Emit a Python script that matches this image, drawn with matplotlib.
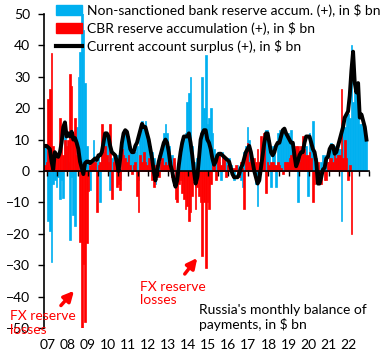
import numpy as np
import matplotlib
matplotlib.use('Agg')
import matplotlib.pyplot as plt
from matplotlib.patches import Patch
from matplotlib.lines import Line2D

plt.rcParams['font.family'] = ['Lato', 'DejaVu Sans']

# monthly values, $ bn (Jan 2007 onwards)
current_account = [
    8, 8, 7.5, 7, 3, 0.5, 6, 5, 4.5, 6, 9, 14,            # 2007
    15.5, 11, 12, 11, 12.5, 10, 10.5, 9, 7, 3, 1, -1,     # 2008
    2.5, 3, 3, 2.5, 3, 3.5, 4, 3.5, 5, 5, 6, 9,           # 2009
    12, 12, 11, 8, 6, 5.5, 5, 3, 0, 4, 9, 12,             # 2010
    13, 12.5, 10, 7, 6, 6, 8, 9, 11, 13, 15, 14,          # 2011
    14, 12, 10, 7, 4, 0, -3, 0, 3, 5, 7, 9,               # 2012
    10, 9, 6, 2, 0, -3, -5, -3, 2, 6, 9, 11,              # 2013
    11, 11, 12, 9, 5, 0, -4, -2, 4, 10, 12, 13,           # 2014
    13, 10, 9, 7, 4, 2, 3, 5, 5.5, 5.5, 5, 4.5,           # 2015
    4, 3.5, 3, 1, -1, -2, -2, -2, -1, 1, 2, 4, 6,         # 2016
    7, 8, 6, 3, 0, -2, -4, -3, 1, 5, 9, 12,               # 2017
    12, 9, 6, 5, 6, 8, 9, 9, 11, 13, 13.5, 12,            # 2018
    11, 10, 9, 9, 5, 1.5, 3, 5, 6, 6, 9, 11,              # 2019
    11, 11, 9, 7, 6, 3, -4, -4, -2, 0.5, 1, 4,            # 2020
    4.5, 7, 8, 8, 5.5, 6, 8, 10, 12, 14, 17, 18,          # 2021
    19, 24, 32, 38, 28, 25, 28, 17, 18, 16, 14, 10,       # 2022
]

bank_reserves = [
    8, 8, -16, -19, -29, -4, -3, -5, -2, -9, -3, -8.5,
    12, 6, 3, -22, -2, -14, -17.5, 14, 30, 38, 52, 45,
    28, 8, 3, -6, 3, 10, 4, 3, 5, -10, 6, 8,
    12, 11, 10, -6, 4, 5, 4, 5, 2, -3, 8, 12,
    13, 12, 11, 8, 7, 6, 6, 8, -3, 13, 16, 14,
    16, 12, 7, 8, 6, 4, -4, -2, 5, 6, 8, 12,
    15, 12, 8, 4, 5, 3, -3, -4, -2, 4, 8, 10,
    12, 22, 25, 30, 8, 3, -5, 4, 8, 12, 30, 20,
    37, 15, 17, 20, 12, 7, 5, 6, 3, -3, 6, 4,
    3, 2, 4, 2, 1, -3, 1, 2, 1, -3, -5, 6, 8,
    14, 10, 5, 2, 3, -4, -11, -3, 3, 5, 9, 13,
    13, 10, -5, 8, 7, -5, 12, 13, 12, 13, 12, 12,
    12, 11, 13, 9, 7, 3, -10, 6, 5, 7, 6, 8,
    -8, 12, 8, 16, 5, 4, 2, -2, 3, 5, 3, 5,
    3, 5, 9, 6, 4, 8, 7, 7, -16, 14, 14, 18,
    18, 17, 40, 22, 28, 25, 25, 15, 15, 14, 12, 10,
]

cbr_reserves = [
    2, 3, 23, 26, 37.5, 8, 6, 4, 5, 17, 13, 5,
    10, 8, 10, 31, 27, 12, 17, 5, 3, -22.5, -50, -29.5,
    -48, -23, -6.5, 2, 3, 4, 3, -13, 2, 3, 15, 6,
    8, 5, 3, 15, -9, 3, 5, -5, -4, -6, 7, 5,
    4, 3, 5, 2, -1, 2, 3, -8, -13, 5, 3, 6,
    3, 2, 4, 3, -3, -5, 2, 1, -2, 3, 4, 2,
    3, 2, 4, 3, -2, 4, -9, -10, -4, -3, -7, -9,
    -12, -11, -16, -13, -8, -3, -12, -5, -8, -10, -27, -10,
    -31, -10, -12, -4, 4, 3, -3, 4, 5, 2, 5, 4,
    -2, 2, 3, 1, -2, 1, 2, -1, -2, 3, 1, -12, 5,
    9, 3, 4, 3, 4, 3, 7, 3, 11, 4, 12, -7,
    3, 2, 3, 3, 2, 2, 3, 2, 1, -1, 3, 3,
    3, 4, 5, 8, 5, 8, 8, 3, 8, 11, 7, 5,
    5, 6, 4, -10, -4, 2, 3, -3, -4, 1, -3, -3,
    3, 4, 4, 3, 5, 4, 5, 5, 26, 4, 10, 4,
    -3, 2, -20, 0, 0, 0, 0, 0, 0, 0, 0, 0,
]

year_labels = ['07', '08', '09', '10', '11', '12', '13', '14', '15',
               '16', '17', '18', '19', '20', '21', '22']

blue = '#00B0F0'
red = '#FF0000'

x = np.arange(len(current_account))

fig = plt.figure(figsize=(3.84, 3.61), dpi=100)
ax = fig.add_axes([44 / 384, 1 - 328 / 361, 325 / 384, 314 / 361])

ax.bar(x, bank_reserves, width=1.0, color=blue, edgecolor=blue, linewidth=0.5)
ax.bar(x, cbr_reserves, width=1.0, color=red, edgecolor=red, linewidth=0.5)
ax.plot(x, current_account, color='black', lw=2.8, solid_joinstyle='round')

ax.set_xlim(-0.5, len(x) + 0.5)
ax.set_ylim(-50, 50)
ax.set_yticks(range(-50, 51, 10))
ax.tick_params(axis='y', direction='out', length=4, width=1, labelsize=10, pad=6)

for s in ['top', 'right']:
    ax.spines[s].set_visible(False)
ax.spines['left'].set_linewidth(1.2)
ax.spines['bottom'].set_position(('data', 0))
ax.spines['bottom'].set_linewidth(1.2)
ax.set_xticks(np.arange(1.5, len(x) + 1, 6))
ax.tick_params(axis='x', direction='out', length=3.5, width=1, labelbottom=False)

# year labels along the bottom edge
sec = ax.secondary_xaxis('bottom')
sec.set_xticks(np.arange(len(year_labels)) * 12 + 1.5, year_labels)
sec.tick_params(length=0, labelsize=10, pad=8)
sec.spines['bottom'].set_visible(False)

handles = [Patch(color=blue), Patch(color=red), Line2D([], [], color='black', lw=3)]
labels = ['Non-sanctioned bank reserve accum. (+), in $ bn',
          'CBR reserve accumulation (+), in $ bn',
          'Current account surplus (+), in $ bn']
fig.legend(handles, labels, loc='upper left', bbox_to_anchor=(56 / 384, 1 - 4 / 361),
           frameon=False, fontsize=10, borderpad=0, borderaxespad=0,
           handlelength=1.9, handleheight=0.75, handletextpad=0.3, labelspacing=0.35)

# annotations
ax.annotate('', xy=(18.5, -37.5), xytext=(8.5, -43.5),
            arrowprops=dict(arrowstyle='-|>', color=red, lw=2.5, mutation_scale=15))
ax.annotate('', xy=(92, -27), xytext=(82.5, -33.5),
            arrowprops=dict(arrowstyle='-|>', color=red, lw=2.5, mutation_scale=15))
fig.text(10 / 384, 1 - 310 / 361, 'FX reserve\nlosses', color=red, fontsize=10,
         va='top', ha='left', linespacing=1.15)
fig.text(140 / 384, 1 - 281 / 361, 'FX reserve\nlosses', color=red, fontsize=10,
         va='top', ha='left', linespacing=1.15)
fig.text(199 / 384, 1 - 304 / 361, "Russia's monthly balance of\npayments, in $ bn",
         color='black', fontsize=10, va='top', ha='left', linespacing=1.15)

fig.savefig('out.png', dpi=100)
